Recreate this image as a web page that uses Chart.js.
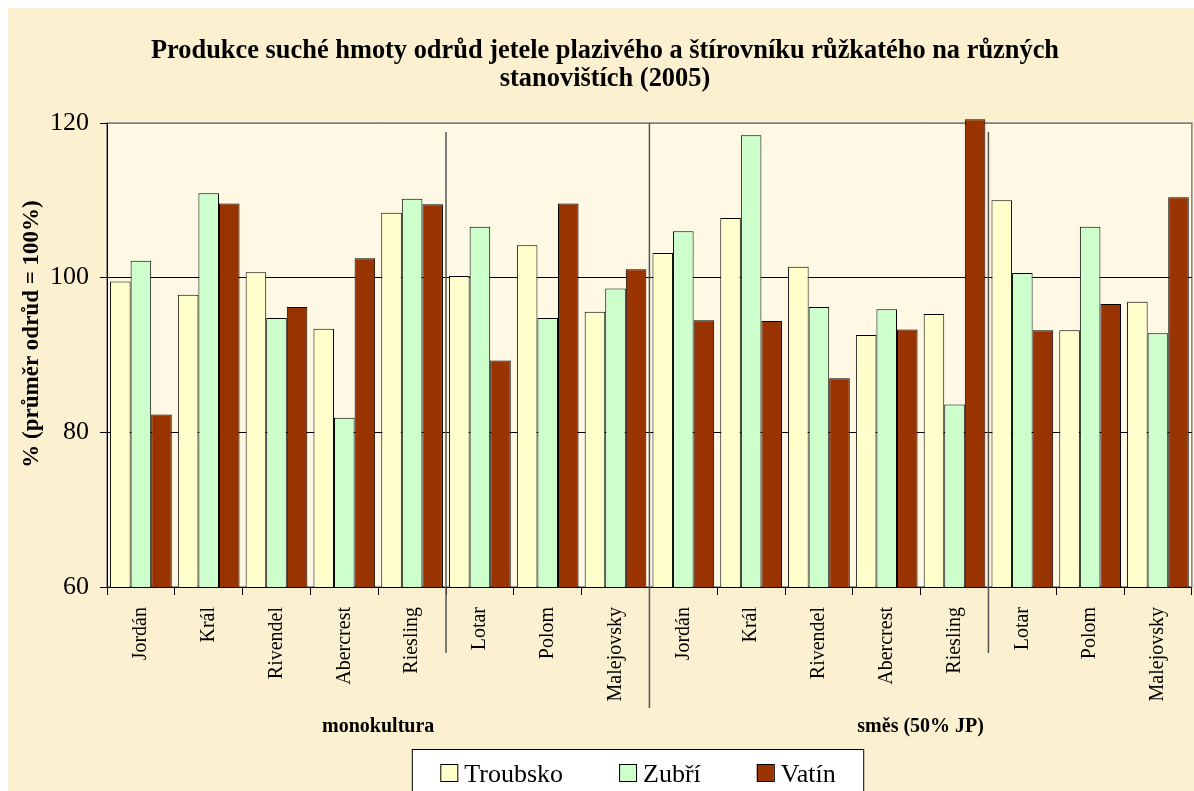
<!DOCTYPE html>
<html lang="cs">
<head>
    <meta charset="UTF-8">
    <title>Produkce suché hmoty</title>
    <style>
        body {
            margin: 0;
            background: #fff;
        }
        #chart {
            display: block;
        }
    </style>
</head>
<body>
<canvas id="chart" width="1194" height="791"></canvas>

<script src="https://cdn.jsdelivr.net/npm/chart.js"></script>
<script>
// data
const varieties = ['Jordán', 'Král', 'Rivendel', 'Abercrest', 'Riesling', 'Lotar', 'Polom', 'Malejovsky',
                   'Jordán', 'Král', 'Rivendel', 'Abercrest', 'Riesling', 'Lotar', 'Polom', 'Malejovsky'];
const groups = ['monokultura', 'směs (50% JP)'];
const troubsko = [99.5, 97.8, 100.7, 93.4, 108.4, 100.2, 104.2, 95.6, 103.2, 107.7, 101.4, 92.6, 95.3, 110.0, 93.2, 96.9];
const zubri = [102.2, 110.9, 94.8, 81.9, 110.2, 106.6, 94.8, 98.6, 106.0, 118.4, 96.2, 95.9, 83.6, 100.6, 106.6, 92.8];
const vatin = [82.3, 109.6, 96.2, 102.5, 109.5, 89.3, 109.6, 101.1, 94.5, 94.4, 87.0, 93.3, 120.5, 93.2, 96.6, 110.4];
const yTicks = [60, 80, 100, 120];

const titleLines = ['Produkce suché hmoty odrůd jetele plazivého a štírovníku růžkatého na různých',
                    'stanovištích (2005)'];
const yTitle = '% (průměr odrůd = 100%)';

const serif = '"Liberation Serif", "Times New Roman", serif';
Chart.defaults.font.family = serif;
Chart.defaults.color = '#000';

// category boundary between index i-1 and i
function boundaryX(chart, i) {
    const x = chart.scales.x;
    return (x.getPixelForValue(i - 1) + x.getPixelForValue(i)) / 2;
}

const decorations = {
    id: 'decorations',
    beforeDraw(chart) {
        const ctx = chart.ctx;
        const a = chart.chartArea;
        ctx.save();
        // white margin + parchment background
        ctx.fillStyle = '#fff';
        ctx.fillRect(0, 0, chart.width, chart.height);
        ctx.fillStyle = '#fbf1d0';
        ctx.fillRect(8, 8, chart.width - 8, chart.height - 8);
        // plot area
        ctx.fillStyle = '#fef8e5';
        ctx.fillRect(a.left, a.top, a.right - a.left, a.bottom - a.top);
        ctx.strokeStyle = '#808080';
        ctx.lineWidth = 1.5;
        ctx.strokeRect(a.left, a.top, a.right - a.left, a.bottom - a.top);
        ctx.restore();
    },
    afterDatasetsDraw(chart) {
        const ctx = chart.ctx;
        const a = chart.chartArea;
        ctx.save();
        ctx.strokeStyle = '#555';
        ctx.lineWidth = 1.5;
        // separators inside each group (after Riesling)
        [5, 13].forEach(i => {
            const x = boundaryX(chart, i);
            ctx.beginPath();
            ctx.moveTo(x, a.top + 9);
            ctx.lineTo(x, a.bottom + 66);
            ctx.stroke();
        });
        // separator between the two groups
        const gx = boundaryX(chart, 8);
        ctx.beginPath();
        ctx.moveTo(gx, a.top);
        ctx.lineTo(gx, a.bottom + 121);
        ctx.stroke();
        ctx.restore();
    },
    afterDraw(chart) {
        const ctx = chart.ctx;
        ctx.save();
        ctx.fillStyle = '#000';

        // title
        ctx.font = 'bold 26.4px ' + serif;
        ctx.textAlign = 'center';
        ctx.textBaseline = 'alphabetic';
        titleLines.forEach((line, i) => ctx.fillText(line, 605, 58 + i * 28));

        // y axis title
        ctx.save();
        ctx.translate(38, 334);
        ctx.rotate(-Math.PI / 2);
        ctx.font = 'bold 23px ' + serif;
        ctx.fillText(yTitle, 0, 0);
        ctx.restore();

        // group labels
        ctx.font = 'bold 20px ' + serif;
        const size = varieties.length / groups.length;
        groups.forEach((g, gi) => {
            const x = boundaryX(chart, gi * size + size / 2);
            ctx.fillText(g, x, 732);
        });

        // legend box
        const sets = chart.data.datasets;
        ctx.font = '26px ' + serif;
        const pad = 28, sw = 17, gap = 7, itemGap = 56;
        let w = pad * 2 + itemGap * (sets.length - 1);
        sets.forEach(ds => { w += sw + gap + ctx.measureText(ds.label).width; });
        const left = 638 - w / 2;
        const top = 749.5;
        ctx.fillStyle = '#fff';
        ctx.fillRect(left, top, w, chart.height - top + 5);
        ctx.strokeStyle = '#000';
        ctx.lineWidth = 1;
        ctx.strokeRect(left, top, w, chart.height - top + 5);
        let x = left + pad;
        ctx.textAlign = 'left';
        sets.forEach(ds => {
            ctx.fillStyle = ds.backgroundColor;
            ctx.fillRect(x, 764, sw, sw);
            ctx.strokeStyle = '#000';
            ctx.strokeRect(x + 0.5, 764.5, sw, sw);
            x += sw + gap;
            ctx.fillStyle = '#000';
            ctx.fillText(ds.label, x, 782);
            x += ctx.measureText(ds.label).width + itemGap;
        });
        ctx.restore();
    }
};

new Chart(document.getElementById('chart'), {
    type: 'bar',
    data: {
        labels: varieties,
        datasets: [
            { label: 'Troubsko', data: troubsko, backgroundColor: '#ffffcc' },
            { label: 'Zubří', data: zubri, backgroundColor: '#ccffcc' },
            { label: 'Vatín', data: vatin, backgroundColor: '#993300' }
        ].map(ds => Object.assign(ds, {
            borderColor: '#000',
            borderWidth: 1,
            categoryPercentage: 0.91,
            barPercentage: 1.0,
            // let the Riesling bar poke above 120, but cut everything at the x axis
            clip: { left: 5, top: 10, right: 5, bottom: 0 }
        }))
    },
    options: {
        responsive: false,
        animation: false,
        devicePixelRatio: 1,
        layout: { padding: { top: 123, right: 2, left: 0, bottom: 0 } },
        plugins: {
            legend: { display: false },
            title: { display: false },
            tooltip: { enabled: false }
        },
        scales: {
            x: {
                afterFit(scale) { scale.height = 204; },
                grid: {
                    offset: true,
                    drawOnChartArea: false,
                    drawTicks: true,
                    tickLength: 8,
                    color: '#000'
                },
                border: { color: '#000', width: 1 },
                ticks: {
                    autoSkip: false,
                    minRotation: 90,
                    maxRotation: 90,
                    padding: 12,
                    font: { size: 20 }
                }
            },
            y: {
                min: 60,
                max: 120,
                afterFit(scale) { scale.width = 107; },
                afterBuildTicks(scale) { scale.ticks = yTicks.map(v => ({ value: v })); },
                grid: {
                    color: ctx => ctx.tick && ctx.tick.value === 120 ? '#808080' : '#000',
                    tickColor: '#000',
                    tickLength: 7,
                    lineWidth: 1
                },
                border: { color: '#000', width: 1 },
                ticks: {
                    padding: 11,
                    font: { size: 26 }
                }
            }
        }
    },
    plugins: [decorations]
});
</script>
</body>
</html>
